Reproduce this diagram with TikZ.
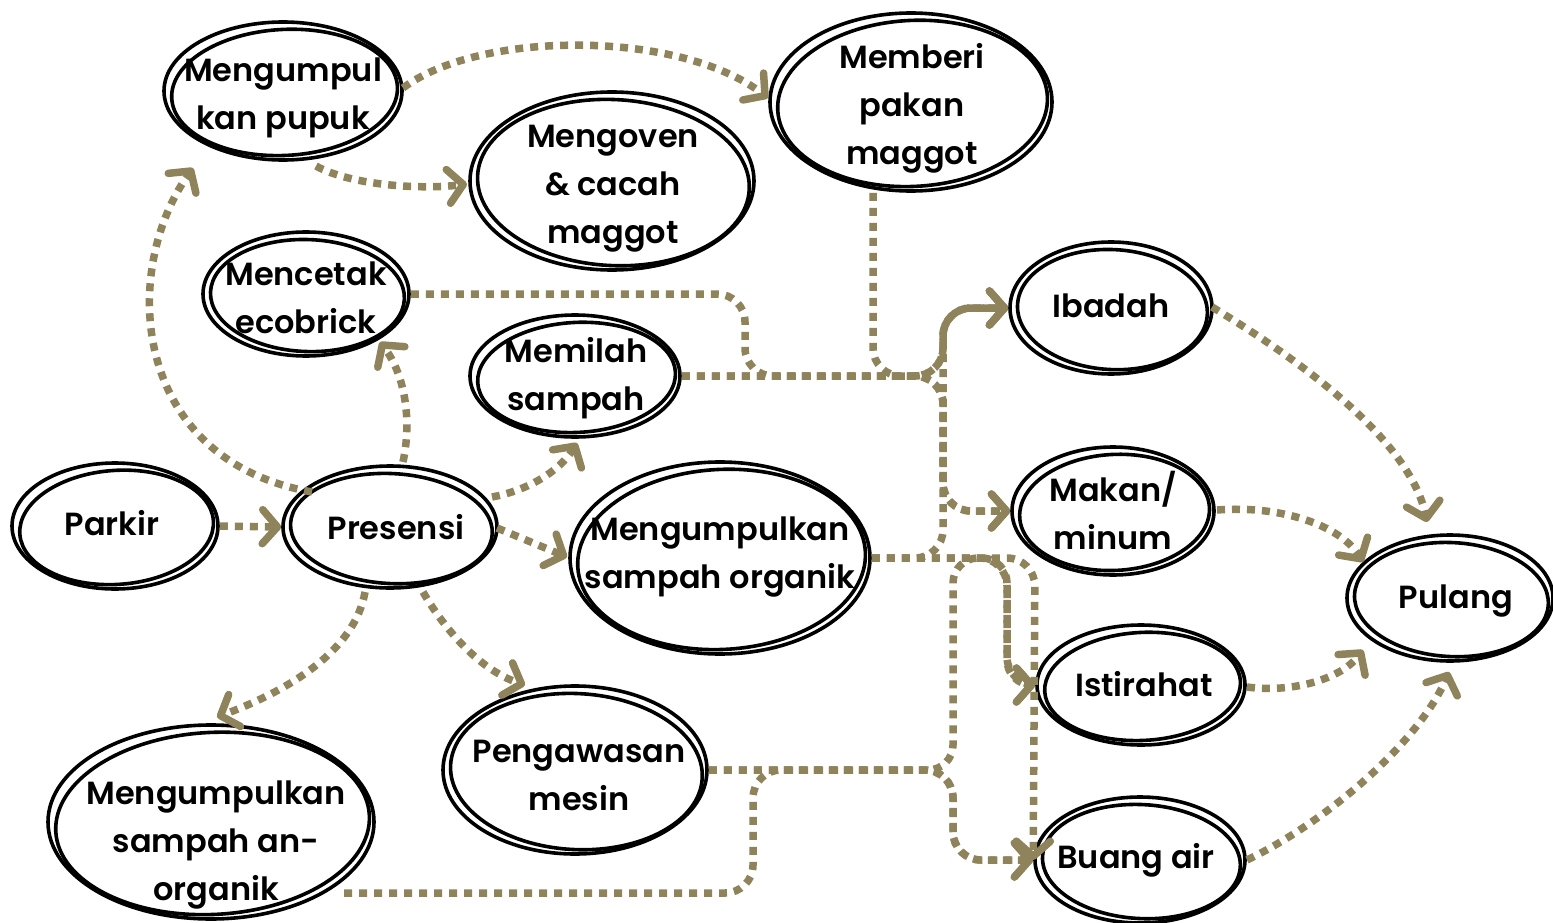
\documentclass[tikz,border=0pt]{standalone}
\usepackage{fontspec}
\IfFontExistsTF{Poppins SemiBold}{\newfontfamily\pop{Poppins SemiBold}}{\IfFontExistsTF{Poppins Bold}{\newfontfamily\pop{Poppins Bold}}{\newfontfamily\pop{Poppins}}}
\usetikzlibrary{arrows.meta,shapes.geometric,calc}
\definecolor{olv}{RGB}{143,131,92}
\tikzset{
 ellnode/.style={ellipse, draw=black, line width=3.6pt, inner sep=0pt},
 ellline/.style={draw=black, line width=3.6pt},
 txt/.style={font=\pop\fontsize{32}{48}\selectfont, align=center, inner sep=0pt, text=black},
 con/.style={draw=olv, line width=7.5pt, dash pattern=on 8pt off 7pt, rounded corners=28pt,
   -{Straight Barb[length=15pt,width=34pt,line width=7.5pt,round]}},
}
\newcommand\bub[9]{%
  \node[ellnode, minimum width=#4*2pt, minimum height=#5*2pt] (#1) at (#2,#3) {};
  \draw[ellline, rotate around={#6:(#1.center)}] ($(#1.center)+(1.5,1.5)$) ellipse [x radius={(#4-6)*1pt}, y radius={(#5-6)*1pt}];
  \node[txt] (#1-t) at (#7,#8) {#9};
}
\begin{document}
\begin{tikzpicture}[x=1pt,y=-1pt]
\fill[white] (0,0) rectangle (1553,923);
\useasboundingbox (0,0) rectangle (1553,923);

\bub{pupuk}{283}{91}{119}{69}{3}{283}{98}{Mengumpul\\kan pupuk}
\bub{oven}{612}{181}{142}{89}{-3}{613}{189}{Mengoven\\\& cacah\\maggot}
\bub{memberi}{911}{102}{141}{89}{3}{912}{108}{Memberi\\pakan\\maggot}
\bub{mencetak}{306}{294}{103}{62}{-2}{306}{298}{Mencetak\\ecobrick}
\bub{memilah}{575}{376}{105}{61}{3}{576}{378}{Memilah\\sampah}
\bub{parkir}{115}{526}{103}{63}{4}{112}{523}{Parkir}
\bub{presensi}{390}{527}{107}{61}{-3}{396}{527}{Presensi}
\bub{organik}{720}{558}{150}{96}{3}{720}{557}{Mengumpulkan\\sampah organik}
\bub{ibadah}{1111}{308}{101}{66}{-3}{1111}{306}{Ibadah}
\bub{makan}{1113}{511}{101}{64}{3}{1113}{510}{Makan/\\minum}
\bub{pulang}{1450}{598}{103}{63}{-3}{1456}{601}{Pulang}
\bub{istirahat}{1141}{685}{104}{60}{3}{1144}{684}{Istirahat}
\bub{peng}{575}{770}{132}{84}{-3}{579}{775}{Pengawasan\\mesin}
\bub{anorg}{211}{822}{163}{97}{3}{216}{845}{Mengumpulkan\\sampah an-\\organik}
\bub{buang}{1140}{860}{105}{63}{-3}{1136}{860}{Buang air}

% left part
\draw[con] (parkir.east) -- (presensi.west);
\draw[con] ($(presensi.center)+(-78,-35)$) .. controls (130,460) and (120,270) .. ($(pupuk.center)+(-90,77)$);
\draw[con] ($(presensi.center)+(13,-65)$) .. controls (412,420) and (405,375) .. ($(mencetak.center)+(74,48)$);
\draw[con] ($(presensi.center)+(102,-30)$) .. controls (530,490) and (560,470) .. ($(memilah.center)+(2,67)$);
\draw[con] ($(presensi.center)+(107,1)$) -- ($(organik.center)+(-153,-1)$);
\draw[con] ($(presensi.center)+(33,65)$) .. controls (445,630) and (480,670) .. ($(peng.center)+(-50,-85)$);
\draw[con] ($(presensi.center)+(-25,65)$) .. controls (355,650) and (290,690) .. ($(anorg.center)+(6,-105)$);
\draw[con] ($(pupuk.center)+(120,-3)$) .. controls (480,30) and (680,30) .. ($(memberi.center)+(-143,-4)$);
\draw[con] ($(pupuk.center)+(33,75)$) .. controls (350,185) and (420,190) .. ($(oven.center)+(-145,3)$);

% elbow connectors
\draw[con] (memilah.east) -- (943,376) -- (943,308) -- (ibadah.west);
\draw[con] (memilah.east) -- (943,376) -- (943,511) -- (makan.west);
\draw[con] ($(memberi.south)+(-38,0)$) -- (873,376) -- (943,376) -- (943,308) -- (ibadah.west);
\draw[con] (mencetak.east) -- (745,294) -- (745,376) -- (943,376) -- (943,511) -- (makan.west);
\draw[con] (organik.east) -- (943,558) -- (943,308) -- (ibadah.west);
\draw[con] (organik.east) -- (1007,558) -- (1007,685) -- (istirahat.west);
\draw[con] (organik.east) -- (1035,558) -- (buang.west);
\draw[con, rounded corners=25pt] (peng.east) -- (953,770) -- (953,558) -- (1007,558) -- (1007,685) -- (istirahat.west);
\draw[con] (peng.east) -- (953,770) -- (953,860) -- (buang.west);
\draw[con] ($(anorg.center)+(133,71)$) -- (753,893) -- (753,770) -- (953,770) -- (953,860) -- (buang.west);

% to Pulang
\draw[con] ($(ibadah.center)+(101,-1)$) .. controls (1300,360) and (1410,440) .. ($(pulang.center)+(-23,-76)$);
\draw[con] ($(makan.center)+(104,-1)$) .. controls (1280,505) and (1340,525) .. ($(pulang.center)+(-87,-36)$);
\draw[con] ($(istirahat.center)+(106,2)$) .. controls (1290,693) and (1340,680) .. ($(pulang.center)+(-87,52)$);
\draw[con] ($(buang.center)+(107,0)$) .. controls (1330,820) and (1420,740) .. ($(pulang.center)+(-1,74)$);
\end{tikzpicture}
\end{document}
